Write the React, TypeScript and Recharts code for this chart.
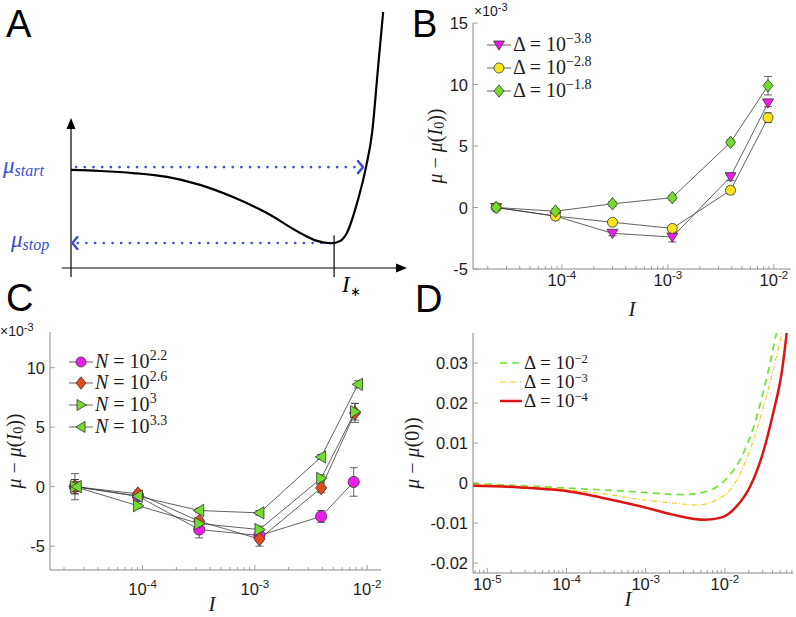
import React from "react";
import { LineChart, Line, XAxis, YAxis, ReferenceLine, ErrorBar } from "recharts";

const SANS = "'Liberation Sans', Arial, Helvetica, sans-serif";
const SERIF = "'Liberation Serif', 'Times New Roman', serif";
const BOX = "#8a8a8a";
const INK = "#1c1c1c";
const EDGE = "#333333";
const BLUE = "#3b4fd6";

const MAGENTA = "#ec1cec";
const YELLOW = "#fbe41e";
const GREEN = "#74dc2c";
const ORANGE = "#e6491c";

// ---- panel A: schematic mu(I), arbitrary units 0..100
const aX = [0, 8.6, 18.5, 28.6, 38.4, 48.2, 58.3, 68.2, 73.2, 77.4, 80.1, 82.1, 85.4, 87.8, 89.6, 91.4, 92.9];
const aY = [38.0, 37.6, 36.8, 35.3, 32.2, 27.5, 21.3, 13.6, 10.5, 9.6, 10.5, 13.6, 26.4, 39.1, 52.3, 77.9, 99.2];
const aStart = 39.1;
const aStop = 9.7;
const aStar = 78.3;

// ---- panel B: mu - mu(I0) (x1e-3) for three Delta
const bI = [2.4e-5, 8.7e-5, 3.0e-4, 1.1e-3, 3.9e-3, 8.8e-3];
const bD38 = [0, -0.7, -2.1, -2.4, 2.5, 8.5];
const bD28 = [0, -0.7, -1.2, -1.7, 1.4, 7.3];
const bD18 = [0, -0.3, 0.3, 0.8, 5.3, 9.9];
const bD38Err = [0.2, 0.3, 0.2, 0.4, 0.3, 0.3];
const bD28Err = [0.2, 0.2, 0.2, 0.2, 0.3, 0.4];
const bD18Err = [0.2, 0.2, 0.2, 0.2, 0.2, 0.75];
const bYTicks = [-5, 0, 5, 10, 15];

// ---- panel C: mu - mu(I0) (x1e-3) for four N
const cI = [2.5e-5, 9.1e-5, 3.2e-4, 1.1e-3, 3.9e-3, 7.6e-3];
const cI2 = [2.5e-5, 9.1e-5, 3.2e-4, 1.1e-3, 3.9e-3, 7.8e-3];
const cI3 = [2.6e-5, 9.1e-5, 3.2e-4, 1.1e-3, 3.9e-3, 8.3e-3];
const cN22 = [0, -0.8, -3.6, -4.1, -2.5, 0.4];
const cN26 = [0, -0.6, -2.9, -4.4, -0.1, 6.2];
const cN30 = [0, -1.6, -3.1, -3.6, 0.7, 6.3];
const cN33 = [0, -0.8, -2.0, -2.2, 2.5, 8.6];
const cN22Err = [1.1, 0.4, 0.7, 0.5, 0.5, 1.2];
const cN26Err = [0.6, 0.3, 0.3, 0.6, 0.4, 0.8];
const cN30Err = [0.6, 0.2, 0.3, 0.3, 0.3, 0.7];
const cN33Err = [0.4, 0.2, 0.2, 0.2, 0.2, 0.3];
const cYTicks = [-5, 0, 5, 10];

// ---- panel D: model curves mu - mu(0)
const dI2 = [6.6e-6, 8.9e-5, 2.7e-4, 8.5e-4, 2.95e-3, 5.9e-3, 1.07e-2, 1.55e-2, 2.24e-2, 3.16e-2, 4.47e-2];
const dMu2 = [-0.0001, -0.0012, -0.0017, -0.0023, -0.0029, -0.0021, 0.0013, 0.0058, 0.0133, 0.024, 0.0375];
const dI3 = [6.6e-6, 8.9e-5, 2.7e-4, 8.5e-4, 2.2e-3, 4.4e-3, 7.9e-3, 1.26e-2, 1.86e-2, 2.75e-2, 3.89e-2, 5.25e-2];
const dMu3 = [-0.0003, -0.0016, -0.0026, -0.0041, -0.0050, -0.0055, -0.0042, -0.0008, 0.0058, 0.0158, 0.0267, 0.0375];
const dI4 = [6.6e-6, 2.63e-5, 8.91e-5, 2.69e-4, 8.51e-4, 2.19e-3, 5.62e-3, 9.12e-3, 1.41e-2, 2.09e-2, 3.02e-2, 4.07e-2, 5.25e-2, 6.03e-2];
const dMu4 = [-0.0007, -0.0011, -0.0019, -0.0036, -0.0058, -0.0079, -0.0092, -0.0086, -0.0058, -0.0008, 0.0075, 0.0175, 0.028, 0.0375];
const dYTicks = [-0.02, -0.01, 0, 0.01, 0.02, 0.03];

const rows = (xs: number[], ys: number[], es?: number[]) =>
  xs.map((I, i) => ({ I, v: ys[i], e: es ? es[i] : 0 }));

function logTicks(lo: number, hi: number) {
  const out: number[] = [];
  for (let e = -7; e <= 0; e++) {
    for (let m = 1; m <= 9; m++) {
      const v = m * Math.pow(10, e);
      if (v >= lo && v <= hi) out.push(v);
    }
  }
  return out;
}

const decadeOf = (v: number) => {
  const l = Math.log10(v);
  const e = Math.round(l);
  return Math.abs(l - e) < 1e-6 ? e : null;
};

const bottomLogTick = (off: number) => (p: any) => {
  const e = decadeOf(p.payload.value);
  return (
    <g>
      <line x1={p.x} x2={p.x} y1={p.y} y2={p.y - (e !== null ? 5 : 3)} stroke={BOX} strokeWidth={0.8} />
      {e !== null && (
        <text x={p.x} y={p.y + off} textAnchor="middle" fontFamily={SANS} fontSize={16.5} fill={INK}>
          10<tspan dy={-7} fontSize={11.5}>{String(e)}</tspan>
        </text>
      )}
    </g>
  );
};

const topLogTick = (p: any) => {
  const e = decadeOf(p.payload.value);
  return <line x1={p.x} x2={p.x} y1={p.y} y2={p.y + (e !== null ? 5 : 3)} stroke={BOX} strokeWidth={0.8} />;
};

const leftTick = (fmt: (v: number) => string) => (p: any) => (
  <g>
    <line x1={p.x} x2={p.x + 5} y1={p.y} y2={p.y} stroke={BOX} strokeWidth={0.8} />
    <text x={p.x - 5} y={p.y} dy={6} textAnchor="end" fontFamily={SANS} fontSize={16.5} fill={INK}>
      {fmt(p.payload.value)}
    </text>
  </g>
);

const rightTick = (p: any) => (
  <line x1={p.x} x2={p.x - 5} y1={p.y} y2={p.y} stroke={BOX} strokeWidth={0.8} />
);

type Kind = "circle" | "diamond" | "tdown" | "tright" | "tleft";

function Marker({ kind, cx, cy, fill, r }: { kind: Kind; cx: number; cy: number; fill: string; r: number }) {
  const common = { fill, stroke: EDGE, strokeWidth: 0.8 };
  if (kind === "circle") return <circle cx={cx} cy={cy} r={r} {...common} />;
  let pts: number[][] = [];
  if (kind === "diamond") pts = [[cx, cy - r * 1.25], [cx + r, cy], [cx, cy + r * 1.25], [cx - r, cy]];
  if (kind === "tdown") pts = [[cx - r * 1.1, cy - r * 0.8], [cx + r * 1.1, cy - r * 0.8], [cx, cy + r * 1.05]];
  if (kind === "tright") pts = [[cx - r * 0.8, cy - r * 1.1], [cx - r * 0.8, cy + r * 1.1], [cx + r * 1.05, cy]];
  if (kind === "tleft") pts = [[cx + r * 0.8, cy - r * 1.1], [cx + r * 0.8, cy + r * 1.1], [cx - r * 1.05, cy]];
  return <polygon points={pts.map((q) => q.join(",")).join(" ")} {...common} />;
}

type Series = { data: { I: number; v: number; e: number }[]; kind: Kind; color: string };

function DataPanel(props: {
  left: number; top: number; width: number; height: number;
  mTop: number; mRight: number; yW: number; xH: number;
  xDomain: [number, number]; yDomain: [number, number]; yTicks: number[];
  labelOff: number; r: number; series: Series[];
}) {
  const xt = logTicks(props.xDomain[0], props.xDomain[1]);
  return (
    <div style={{ position: "absolute", left: props.left, top: props.top }}>
      <LineChart width={props.width} height={props.height} margin={{ top: props.mTop, right: props.mRight, bottom: 0, left: 0 }}>
        <XAxis xAxisId="b" dataKey="I" type="number" scale="log" domain={props.xDomain} allowDataOverflow
          ticks={xt} interval={0} tickSize={0} tickMargin={0} height={props.xH} stroke={BOX}
          tickLine={false} tick={bottomLogTick(props.labelOff)} />
        <XAxis xAxisId="t" orientation="top" dataKey="I" type="number" scale="log" domain={props.xDomain} allowDataOverflow
          ticks={xt} interval={0} tickSize={0} tickMargin={0} height={0} stroke={BOX}
          tickLine={false} tick={topLogTick} />
        <YAxis yAxisId="l" type="number" domain={props.yDomain} allowDataOverflow ticks={props.yTicks} interval={0}
          tickSize={0} tickMargin={0} width={props.yW} stroke={BOX} tickLine={false}
          tick={leftTick((v) => String(v))} />
        <YAxis yAxisId="r" orientation="right" type="number" domain={props.yDomain} allowDataOverflow ticks={props.yTicks}
          interval={0} tickSize={0} tickMargin={0} width={0} stroke={BOX} tickLine={false} tick={rightTick} />
        {props.series.map((s, i) => (
          <Line key={i} xAxisId="b" yAxisId="l" data={s.data} dataKey="v" type="linear" stroke="#3a3a3a"
            strokeWidth={0.8} isAnimationActive={false} activeDot={false} legendType="none"
            dot={(p: any) => <Marker key={p.index} kind={s.kind} cx={p.cx} cy={p.cy} fill={s.color} r={props.r} />}>
            <ErrorBar dataKey="e" direction="y" width={4} stroke="#3a3a3a" strokeWidth={0.8} />
          </Line>
        ))}
      </LineChart>
    </div>
  );
}

function DPanel() {
  const dom: [number, number] = [6.6e-6, 7.24e-2];
  const xt = logTicks(dom[0], dom[1]);
  const yDom: [number, number] = [-0.0225, 0.0375];
  return (
    <div style={{ position: "absolute", left: 420, top: 310 }}>
      <LineChart width={376} height={307} margin={{ top: 23, right: 3, bottom: 0, left: 0 }}>
        <XAxis xAxisId="b" dataKey="I" type="number" scale="log" domain={dom} allowDataOverflow ticks={xt}
          interval={0} tickSize={0} tickMargin={0} height={44} stroke={BOX} tickLine={false} tick={bottomLogTick(17)} />
        <XAxis xAxisId="t" orientation="top" dataKey="I" type="number" scale="log" domain={dom} allowDataOverflow
          ticks={xt} interval={0} tickSize={0} tickMargin={0} height={0} stroke={BOX} tickLine={false} tick={topLogTick} />
        <YAxis yAxisId="l" type="number" domain={yDom} allowDataOverflow ticks={dYTicks} interval={0} tickSize={0}
          tickMargin={0} width={53} stroke={BOX} tickLine={false}
          tick={leftTick((v) => (Math.abs(v) < 1e-9 ? "0" : v.toFixed(2)))} />
        <YAxis yAxisId="r" orientation="right" type="number" domain={yDom} allowDataOverflow ticks={dYTicks}
          interval={0} tickSize={0} tickMargin={0} width={0} stroke={BOX} tickLine={false} tick={rightTick} />
        <Line xAxisId="b" yAxisId="l" data={rows(dI2, dMu2)} dataKey="v" type="monotone" stroke="#74e032"
          strokeWidth={1.7} strokeDasharray="7 5" dot={false} activeDot={false} isAnimationActive={false} />
        <Line xAxisId="b" yAxisId="l" data={rows(dI3, dMu3)} dataKey="v" type="monotone" stroke="#f0cd10"
          strokeWidth={1.1} strokeDasharray="5 2 1 2" dot={false} activeDot={false} isAnimationActive={false} />
        <Line xAxisId="b" yAxisId="l" data={rows(dI4, dMu4)} dataKey="v" type="monotone" stroke="#dc1414"
          strokeWidth={2.5} dot={false} activeDot={false} isAnimationActive={false} />
      </LineChart>
    </div>
  );
}

function arrowShape(head: "filled" | "open") {
  return (p: any) => {
    const { x1, y1, x2, y2 } = p;
    const a = Math.atan2(y2 - y1, x2 - x1);
    const ux = Math.cos(a), uy = Math.sin(a);
    const nx = -uy, ny = ux;
    if (head === "filled") {
      const L = 11, W = 4.5;
      const bx = x2 - ux * L, by = y2 - uy * L;
      return (
        <g>
          <line x1={x1} y1={y1} x2={bx} y2={by} stroke="#000" strokeWidth={1.2} />
          <polygon points={`${x2},${y2} ${bx + nx * W},${by + ny * W} ${bx - nx * W},${by - ny * W}`} fill="#000" />
        </g>
      );
    }
    const L = 5, W = 6;
    const bx = x2 - ux * L, by = y2 - uy * L;
    return (
      <g>
        <line x1={x1} y1={y1} x2={x2} y2={y2} stroke={BLUE} strokeWidth={2.6} strokeDasharray="0.1 8.6" strokeLinecap="round" />
        <polyline points={`${bx + nx * W},${by + ny * W} ${x2},${y2} ${bx - nx * W},${by - ny * W}`}
          fill="none" stroke={BLUE} strokeWidth={2.4} strokeLinecap="round" strokeLinejoin="round" />
      </g>
    );
  };
}

function APanel() {
  const data = aX.map((x, i) => ({ x, y: aY[i] }));
  return (
    <div style={{ position: "absolute", left: 0, top: 0 }}>
      <LineChart width={420} height={300} margin={{ top: 10, right: 13, bottom: 32, left: 71 }}>
        <XAxis dataKey="x" type="number" domain={[0, 100]} allowDataOverflow hide />
        <YAxis type="number" domain={[0, 100]} allowDataOverflow hide />
        <ReferenceLine ifOverflow="visible" segment={[{ x: 0, y: -3.5 }, { x: 0, y: 58.1 }]} shape={arrowShape("filled")} />
        <ReferenceLine ifOverflow="visible" segment={[{ x: -2.7, y: 0 }, { x: 100, y: 0 }]} shape={arrowShape("filled")} />
        <ReferenceLine ifOverflow="visible" segment={[{ x: aStar, y: -3.5 }, { x: aStar, y: aStop + 3 }]} stroke="#000" strokeWidth={1.2} />
        <ReferenceLine ifOverflow="visible" segment={[{ x: 1.5, y: aStart }, { x: 86.9, y: aStart }]} shape={arrowShape("open")} />
        <ReferenceLine ifOverflow="visible" segment={[{ x: 77.1, y: aStop }, { x: 0.4, y: aStop }]} shape={arrowShape("open")} />
        <Line data={data} dataKey="y" type="monotone" stroke="#000" strokeWidth={2.2} dot={false} activeDot={false} isAnimationActive={false} />
      </LineChart>
    </div>
  );
}

function YLabel({ cx, cy, sub }: { cx: number; cy: number; sub: React.ReactNode }) {
  return (
    <text x={cx} y={cy} transform={`rotate(-90 ${cx} ${cy})`} textAnchor="middle" dominantBaseline="central"
      fontFamily={SERIF} fontSize={20} fill={INK}>
      <tspan fontStyle="italic">μ</tspan>{" − "}<tspan fontStyle="italic">μ</tspan>({sub})
    </text>
  );
}

function LegendRow({ x, y, children, kind, color }: { x: number; y: number; children: React.ReactNode; kind: Kind; color: string }) {
  return (
    <g>
      <line x1={x} x2={x + 24} y1={y} y2={y} stroke="#3a3a3a" strokeWidth={0.8} />
      <Marker kind={kind} cx={x + 12} cy={y} fill={color} r={5} />
      <text x={x + 26} y={y + 6} fontFamily={SERIF} fontSize={20} fill={INK}>{children}</text>
    </g>
  );
}

function Overlay() {
  const sup = (s: string) => <tspan dy={-8} fontSize={14}>{s}</tspan>;
  const supD = (s: string) => <tspan dy={-6} fontSize={12.5}>{s}</tspan>;
  return (
    <svg width={796} height={617} style={{ position: "absolute", left: 0, top: 0, pointerEvents: "none" }}>
      {/* panel letters */}
      <text x={6} y={37} fontFamily={SANS} fontSize={38} fill="#000">A</text>
      <text x={412} y={37} fontFamily={SANS} fontSize={38} fill="#000">B</text>
      <text x={6} y={311} fontFamily={SANS} fontSize={38} fill="#000">C</text>
      <text x={415} y={312} fontFamily={SANS} fontSize={38} fill="#000">D</text>

      {/* panel A annotations */}
      <text x={3} y={173} fontFamily={SERIF} fontStyle="italic" fontSize={23} fill={BLUE}>
        μ<tspan fontSize={16} dy={3}>start</tspan>
      </text>
      <text x={11} y={247} fontFamily={SERIF} fontStyle="italic" fontSize={23} fill={BLUE}>
        μ<tspan fontSize={16} dy={3}>stop</tspan>
      </text>
      <text x={342} y={292} fontFamily={SERIF} fontStyle="italic" fontSize={23} fill="#000">
        I<tspan fontStyle="normal" fontSize={13} dy={4}>∗</tspan>
      </text>

      {/* panel B labels */}
      <text x={474} y={16} fontFamily={SANS} fontSize={14} fill={INK}>×10<tspan dy={-5} fontSize={11}>-3</tspan></text>
      <YLabel cx={435} cy={146} sub={<><tspan fontStyle="italic">I</tspan><tspan fontSize={14} dy={4}>0</tspan><tspan dy={-4}>)</tspan></>} />
      <text x={632} y={316} textAnchor="middle" fontFamily={SERIF} fontStyle="italic" fontSize={21} fill={INK}>I</text>
      <LegendRow x={487} y={45} kind="tdown" color={MAGENTA}>Δ = 10{sup("−3.8")}</LegendRow>
      <LegendRow x={487} y={68} kind="circle" color={YELLOW}>Δ = 10{sup("−2.8")}</LegendRow>
      <LegendRow x={487} y={91} kind="diamond" color={GREEN}>Δ = 10{sup("−1.8")}</LegendRow>

      {/* panel C labels */}
      <text x={0} y={336} fontFamily={SANS} fontSize={14} fill={INK}>×10<tspan dy={-5} fontSize={11}>-3</tspan></text>
      <YLabel cx={14} cy={451} sub={<><tspan fontStyle="italic">I</tspan><tspan fontSize={14} dy={4}>0</tspan><tspan dy={-4}>)</tspan></>} />
      <text x={212} y={611} textAnchor="middle" fontFamily={SERIF} fontStyle="italic" fontSize={21} fill={INK}>I</text>
      <LegendRow x={69} y={362} kind="circle" color={MAGENTA}><tspan fontStyle="italic">N</tspan> = 10{sup("2.2")}</LegendRow>
      <LegendRow x={69} y={383} kind="diamond" color={ORANGE}><tspan fontStyle="italic">N</tspan> = 10{sup("2.6")}</LegendRow>
      <LegendRow x={69} y={405} kind="tright" color={GREEN}><tspan fontStyle="italic">N</tspan> = 10{sup("3")}</LegendRow>
      <LegendRow x={69} y={427} kind="tleft" color={GREEN}><tspan fontStyle="italic">N</tspan> = 10{sup("3.3")}</LegendRow>

      {/* panel D labels */}
      <YLabel cx={412} cy={453} sub={<>0)</>} />
      <text x={628} y={606} textAnchor="middle" fontFamily={SERIF} fontStyle="italic" fontSize={21} fill={INK}>I</text>
      <line x1={500} x2={522} y1={363} y2={363} stroke="#74e032" strokeWidth={1.7} strokeDasharray="7 5" />
      <text x={524} y={369} fontFamily={SERIF} fontSize={19} fill={INK}>Δ = 10{supD("−2")}</text>
      <line x1={500} x2={522} y1={382} y2={382} stroke="#f0cd10" strokeWidth={1.1} strokeDasharray="5 2 1 2" />
      <text x={524} y={388} fontFamily={SERIF} fontSize={19} fill={INK}>Δ = 10{supD("−3")}</text>
      <line x1={500} x2={522} y1={401} y2={401} stroke="#dc1414" strokeWidth={2.5} />
      <text x={524} y={407} fontFamily={SERIF} fontSize={19} fill={INK}>Δ = 10{supD("−4")}</text>
    </svg>
  );
}

export default function App() {
  return (
    <div style={{ position: "absolute", left: 0, top: 0, width: 796, height: 617, background: "#fff", overflow: "hidden" }}>
      <APanel />
      <DataPanel left={420} top={0} width={376} height={310} mTop={23} mRight={5} yW={53} xH={41}
        xDomain={[1.45e-5, 1.45e-2]} yDomain={[-5, 15]} yTicks={bYTicks} labelOff={17} r={5}
        series={[
          { data: rows(bI, bD38, bD38Err), kind: "tdown", color: MAGENTA },
          { data: rows(bI, bD28, bD28Err), kind: "circle", color: YELLOW },
          { data: rows(bI, bD18, bD18Err), kind: "diamond", color: GREEN },
        ]} />
      <DataPanel left={0} top={310} width={420} height={307} mTop={22} mRight={39} yW={50} xH={47}
        xDomain={[1.5e-5, 1.33e-2]} yDomain={[-7, 13]} yTicks={cYTicks} labelOff={25} r={5.6}
        series={[
          { data: rows(cI, cN22, cN22Err), kind: "circle", color: MAGENTA },
          { data: rows(cI2, cN26, cN26Err), kind: "diamond", color: ORANGE },
          { data: rows(cI2, cN30, cN30Err), kind: "tright", color: GREEN },
          { data: rows(cI3, cN33, cN33Err), kind: "tleft", color: GREEN },
        ]} />
      <DPanel />
      <Overlay />
    </div>
  );
}
